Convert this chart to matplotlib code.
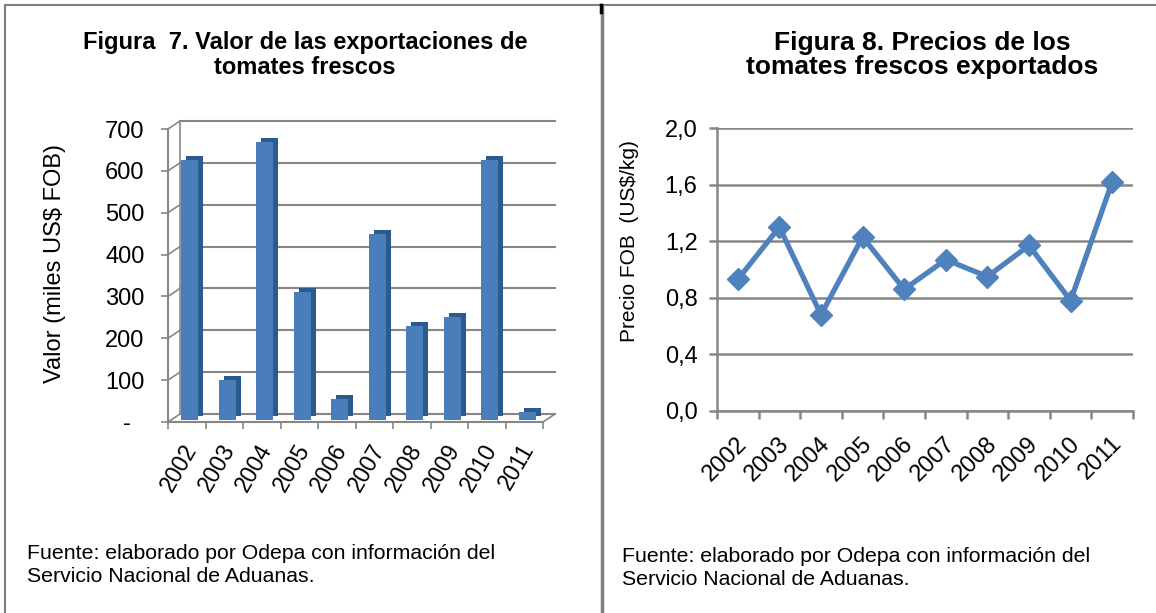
import matplotlib
matplotlib.use("Agg")
import matplotlib.pyplot as plt
import matplotlib.transforms as mtransforms
from matplotlib.lines import Line2D

plt.rcParams['font.family'] = ['Liberation Sans', 'DejaVu Sans']

# Datos
anios = ['2002', '2003', '2004', '2005', '2006', '2007', '2008', '2009', '2010', '2011']
valor_miles_usd = [620, 95, 665, 305, 50, 445, 225, 245, 620, 20]
precio_fob = [0.93, 1.30, 0.68, 1.23, 0.86, 1.07, 0.95, 1.17, 0.78, 1.62]
ticks_valor = [0, 100, 200, 300, 400, 500, 600, 700]
etiquetas_valor = ['-  ', '100', '200', '300', '400', '500', '600', '700']
ticks_precio = [0.0, 0.4, 0.8, 1.2, 1.6, 2.0]
etiquetas_precio = ['0,0', '0,4', '0,8', '1,2', '1,6', '2,0']

gris = '#868686'
azul = '#4A7EBB'
azul_osc = '#2C5A8E'
azul_linea = '#4F81BD'

fig = plt.figure(figsize=(11.56, 6.13), dpi=100)
W, H = 1156, 613

# Marcos de la pagina
fig.add_artist(Line2D([5 / W, 5 / W], [0, 1 - 5 / H], color='#7f7f7f', lw=1.5))
fig.add_artist(Line2D([5 / W, 1], [1 - 5 / H, 1 - 5 / H], color='#7f7f7f', lw=1.5))
fig.add_artist(Line2D([602 / W, 602 / W], [0, 1 - 5 / H], color='#7f7f7f', lw=2.5))
fig.add_artist(Line2D([601 / W, 601 / W], [1 - 12 / H, 1 - 5 / H], color='black', lw=2.5))

# ---------------- Figura 7: barras "3D" ----------------
ax1 = fig.add_axes([168 / W, 1 - 422 / H, 375 / W, (422 - 129) / H])
x = list(range(len(anios)))
ax1.set_xlim(-0.5, 9.5)
ax1.set_ylim(0, 700)
for s in ax1.spines.values():
    s.set_visible(False)

fondo = mtransforms.offset_copy(ax1.transData, fig=fig, x=12, y=8, units='dots')
for v in ticks_valor:
    ax1.plot([-0.5, 9.5], [v, v], color=gris, lw=1.5, transform=fondo, clip_on=False, zorder=1)
    # diagonal desde el eje frontal a la pared del fondo
    p0 = ax1.transData.transform((-0.5, v))
    ax1.add_artist(Line2D([p0[0], p0[0] + 12], [p0[1], p0[1] + 8], color=gris, lw=1.2,
                          transform=None, clip_on=False))
ax1.plot([-0.5, -0.5], [0, 700], color=gris, lw=1.2, transform=fondo, clip_on=False, zorder=1)
ax1.plot([-0.5, -0.5], [0, 700], color=gris, lw=1.5, clip_on=False, zorder=1)
ax1.plot([-0.5, 9.5], [0, 0], color=gris, lw=1.5, clip_on=False, zorder=1)
p1 = ax1.transData.transform((9.5, 0))
ax1.add_artist(Line2D([p1[0], p1[0] + 12], [p1[1], p1[1] + 8], color=gris, lw=1.2,
                      transform=None, clip_on=False))

lado = mtransforms.offset_copy(ax1.transData, fig=fig, x=8, y=6, units='dots')
frente = mtransforms.offset_copy(ax1.transData, fig=fig, x=3, y=2, units='dots')
ax1.bar(x, valor_miles_usd, width=0.46, color=azul_osc, transform=lado, zorder=2)
ax1.bar(x, valor_miles_usd, width=0.46, color=azul, transform=frente, zorder=3)

ax1.set_yticks(ticks_valor)
ax1.set_yticklabels(etiquetas_valor, fontsize=17)
ax1.set_xticks([i - 0.5 for i in range(11)])
ax1.set_xticklabels([])
ax1.set_xticks(x, minor=True)
ax1.set_xticklabels(anios, minor=True, fontsize=16.5, rotation=60, ha='right', va='center',
                    rotation_mode='anchor')
ax1.tick_params(axis='both', which='major', length=5, width=1.2, color=gris)
ax1.tick_params(axis='x', which='minor', length=0, pad=17)
ax1.tick_params(axis='y', pad=12)
desplaza = mtransforms.ScaledTranslation(5 / 100, 0, fig.dpi_scale_trans)
for lbl in ax1.get_xticklabels(minor=True):
    lbl.set_transform(lbl.get_transform() + desplaza)
ax1.set_ylabel('Valor (miles US$ FOB)', fontsize=17)
ax1.yaxis.set_label_coords(-0.272, 0.54)

fig.text(305 / W, 1 - 55 / H, 'Figura  7. Valor de las exportaciones de\ntomates frescos',
         ha='center', va='center', fontsize=17, fontweight='bold', linespacing=1.15)
fig.text(27 / W, 1 - 565 / H, 'Fuente: elaborado por Odepa con información del\nServicio Nacional de Aduanas.',
         ha='left', va='center', fontsize=15.3, linespacing=1.27)

# ---------------- Figura 8: linea de precios ----------------
ax2 = fig.add_axes([717 / W, 1 - 411 / H, 416 / W, (411 - 128) / H])
ax2.plot(x, precio_fob, color=azul_linea, lw=3.8, marker='D', markersize=11, zorder=3)
ax2.set_xlim(-0.5, 9.5)
ax2.set_ylim(0, 2.0)
ax2.set_yticks(ticks_precio)
ax2.set_yticklabels(etiquetas_precio, fontsize=17)
ax2.grid(axis='y', color=gris, lw=1.8)
ax2.set_axisbelow(True)
for lado_sp in ['top', 'right']:
    ax2.spines[lado_sp].set_visible(False)
for lado_sp in ['left', 'bottom']:
    ax2.spines[lado_sp].set_color(gris)
    ax2.spines[lado_sp].set_linewidth(1.8)
ax2.set_xticks([i - 0.5 for i in range(11)])
ax2.set_xticklabels([])
ax2.set_xticks(x, minor=True)
ax2.set_xticklabels(anios, minor=True, fontsize=17, rotation=45, ha='right', va='center',
                    rotation_mode='anchor')
ax2.tick_params(axis='both', which='major', length=6, width=1.8, color=gris)
ax2.tick_params(axis='x', which='minor', length=0, pad=21)
ax2.tick_params(axis='y', pad=8)
desplaza2 = mtransforms.ScaledTranslation(6 / 100, 0, fig.dpi_scale_trans)
for lbl in ax2.get_xticklabels(minor=True):
    lbl.set_transform(lbl.get_transform() + desplaza2)
ax2.set_ylabel('Precio FOB  (US$/kg)', fontsize=15)
ax2.yaxis.set_label_coords(-0.1875, 0.60)

fig.text(922 / W, 1 - 55 / H, 'Figura 8. Precios de los\ntomates frescos exportados',
         ha='center', va='center', fontsize=19, fontweight='bold', linespacing=1.05)
fig.text(622 / W, 1 - 568 / H, 'Fuente: elaborado por Odepa con información del\nServicio Nacional de Aduanas.',
         ha='left', va='center', fontsize=15.3, linespacing=1.27)

fig.savefig('out.png', dpi=100)
